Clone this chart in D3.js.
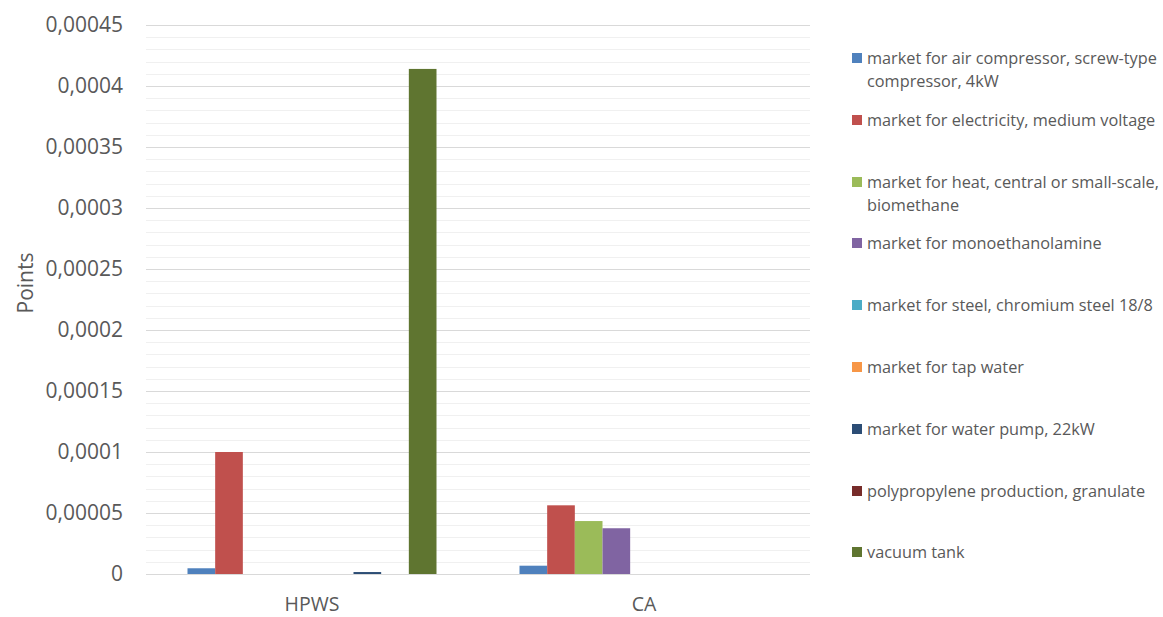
<!DOCTYPE html>
<html><head><meta charset="utf-8">
<script src="https://cdn.jsdelivr.net/npm/d3@7"></script>
<style>
body{margin:0;background:#fff;}
text{font-family:"Open Sans",sans-serif;fill:#595959;}
</style></head>
<body><svg id="c" width="1163" height="617"></svg>
<script>
const categories = ["HPWS", "CA"];
const seriesNames = [
  "market for air compressor, screw-type compressor, 4kW",
  "market for electricity, medium voltage",
  "market for heat, central or small-scale, biomethane",
  "market for monoethanolamine",
  "market for steel, chromium steel 18/8",
  "market for tap water",
  "market for water pump, 22kW",
  "polypropylene production, granulate",
  "vacuum tank"
];
const legendLines = [
  ["market for air compressor, screw-type", "compressor, 4kW"],
  ["market for electricity, medium voltage"],
  ["market for heat, central or small-scale,", "biomethane"],
  ["market for monoethanolamine"],
  ["market for steel, chromium steel 18/8"],
  ["market for tap water"],
  ["market for water pump, 22kW"],
  ["polypropylene production, granulate"],
  ["vacuum tank"]
];
const seriesColors = ["#4F81BD","#C0504D","#9BBB59","#8064A2","#4BACC6","#F79646","#2C4D75","#772C2A","#5F7530"];
// values per series: [HPWS, CA]
const airCompressor = [0.0000047, 0.0000068];
const electricity   = [0.0001, 0.0000563];
const heat          = [0, 0.0000434];
const mea           = [0, 0.0000375];
const steel         = [0, 0];
const tapWater      = [0, 0];
const waterPump     = [0.0000016, 0];
const polypropylene = [0, 0];
const vacuumTank    = [0.000414, 0];
const seriesValues = [airCompressor, electricity, heat, mea, steel, tapWater, waterPump, polypropylene, vacuumTank];
const yTicks = [0, 0.00005, 0.0001, 0.00015, 0.0002, 0.00025, 0.0003, 0.00035, 0.0004, 0.00045];
const yTickLabels = ["0","0,00005","0,0001","0,00015","0,0002","0,00025","0,0003","0,00035","0,0004","0,00045"];
const minorStep = 0.00001;

const FONT = "'Open Sans',sans-serif";
const svg = d3.select("#c");
const L = 146, R = 810, T = 25, B = 574;
const y = d3.scaleLinear().domain([0, 0.00045]).range([B, T]);
const x0 = d3.scaleBand().domain(categories).range([L, R]).paddingInner(0).paddingOuter(0);
const x1 = d3.scaleBand().domain(d3.range(seriesNames.length))
  .range([x0.bandwidth()*1.5/12, x0.bandwidth()*10.5/12]).paddingInner(0).paddingOuter(0);

// minor gridlines
const minorTicks = d3.range(0, 0.00045 + 1e-12, minorStep).filter(v => Math.abs(Math.round(v/0.00005)*0.00005 - v) > 1e-9);
svg.append("g").selectAll("line").data(minorTicks).join("line")
  .attr("x1", L).attr("x2", R)
  .attr("y1", d => Math.round(y(d)) + 0.5).attr("y2", d => Math.round(y(d)) + 0.5)
  .attr("stroke", "#f0f0f0").attr("stroke-width", 1);
// major gridlines
svg.append("g").selectAll("line").data(yTicks).join("line")
  .attr("x1", L).attr("x2", R)
  .attr("y1", d => Math.round(y(d)) + 0.5).attr("y2", d => Math.round(y(d)) + 0.5)
  .attr("stroke", "#d9d9d9").attr("stroke-width", 1);

// y axis labels
const yAxis = d3.axisLeft(y).tickValues(yTicks).tickFormat((d, i) => yTickLabels[i]).tickSize(0).tickPadding(0);
const ga = svg.append("g").attr("transform", `translate(123,0)`).call(yAxis);
ga.select(".domain").remove();
ga.selectAll("text").style("font-size", "21px").attr("fill", "#595959").style("font-family", FONT);

// bars
const groups = svg.append("g").selectAll("g").data(categories).join("g")
  .attr("transform", d => `translate(${x0(d)},0)`);
groups.selectAll("rect").data((c, ci) => seriesValues.map((s, si) => ({si, v: s[ci]})).filter(d => d.v > 0)).join("rect")
  .attr("x", d => x1(d.si)).attr("width", x1.bandwidth())
  .attr("y", d => y(d.v)).attr("height", d => B - y(d.v))
  .attr("fill", d => seriesColors[d.si]);

// x axis labels
const xAxis = d3.axisBottom(x0).tickSize(0).tickPadding(0);
const gx = svg.append("g").attr("transform", `translate(0,${B})`).call(xAxis);
gx.select(".domain").remove();
gx.selectAll("text").style("font-size", "19.5px").attr("fill", "#000").style("font-family", FONT)
  .attr("y", 37).attr("dy", null);

// axis title
svg.append("text").attr("transform", "translate(26,283) rotate(-90)")
  .attr("text-anchor", "middle").attr("dy", "0.35em").style("font-size", "21px").text("Points");

// legend
const legY = [58, 120, 182, 243, 305, 367, 429, 491, 552];
const leg = svg.append("g").selectAll("g").data(seriesNames).join("g")
  .attr("transform", (d, i) => `translate(852,${legY[i]})`);
leg.append("rect").attr("x", 0).attr("y", -5).attr("width", 10).attr("height", 10)
  .attr("fill", (d, i) => seriesColors[i]);
leg.each(function(d, i) {
  const g = d3.select(this);
  legendLines[i].forEach((ln, k) => {
    g.append("text").attr("x", 15).attr("y", k * 23).attr("dy", "0.35em")
      .style("font-size", "16.3px").text(ln);
  });
});
</script></body></html>
